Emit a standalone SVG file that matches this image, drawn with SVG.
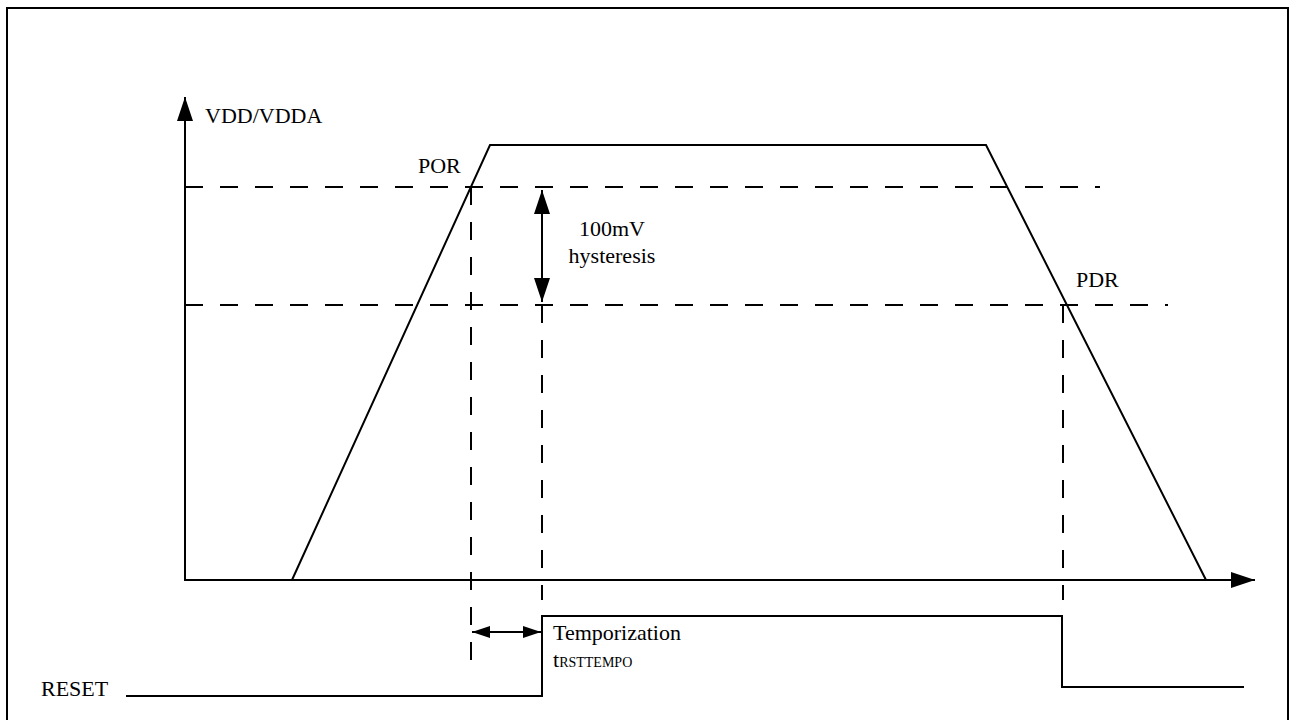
<svg xmlns="http://www.w3.org/2000/svg" width="1292" height="720" viewBox="0 0 1292 720">
<style>
.ln{fill:none;stroke:#000;stroke-width:2}
.dash{fill:none;stroke:#000;stroke-width:2;stroke-dasharray:18 17}
.t{font-family:"Liberation Serif","Times New Roman",serif;font-size:22px;fill:#000}
.s{font-size:14px}
</style>
<defs>
<marker id="ah" markerUnits="userSpaceOnUse" markerWidth="26" markerHeight="18" refX="24" refY="8" orient="auto-start-reverse">
<path d="M0,0 L24,8 L0,16 Z" fill="#000"/>
</marker>
<marker id="ahs" markerUnits="userSpaceOnUse" markerWidth="20" markerHeight="14" refX="18" refY="6" orient="auto-start-reverse">
<path d="M0,0 L18,6 L0,12 Z" fill="#000"/>
</marker>
</defs>
<rect x="0" y="0" width="1292" height="720" fill="#fff"/>
<rect id="frame" x="7" y="8" width="1281" height="730" class="ln"/>
<g id="axes">
<line x1="185" y1="581" x2="185" y2="97" class="ln" marker-end="url(#ah)"/>
<line x1="184" y1="580" x2="1255" y2="580" class="ln" marker-end="url(#ah)"/>
</g>
<g id="thresholds">
<line x1="185" y1="187" x2="1100" y2="187" class="dash"/>
<line x1="185" y1="305" x2="1168" y2="305" class="dash"/>
<line x1="471" y1="187" x2="471" y2="672" class="dash"/>
<line x1="542" y1="305" x2="542" y2="600" class="dash"/>
<line x1="1063" y1="305" x2="1063" y2="600" class="dash"/>
</g>
<g id="vdd-curve">
<polyline points="292,580 490,145 986,145 1206,580" class="ln"/>
</g>
<g id="reset-signal">
<polyline points="126,696 542,696 542,616 1062,616 1062,687 1244,687" class="ln"/>
</g>
<g id="connectors">
<line x1="542" y1="190" x2="542" y2="302" class="ln" marker-start="url(#ah)" marker-end="url(#ah)"/>
<line x1="472" y1="632" x2="541" y2="632" class="ln" marker-start="url(#ahs)" marker-end="url(#ahs)"/>
</g>
<g id="labels">
<text x="205" y="123" class="t">VDD/VDDA</text>
<text x="418" y="173" class="t">POR</text>
<text x="1076" y="287" class="t">PDR</text>
<text x="612" y="236" class="t" text-anchor="middle">100mV</text>
<text x="612" y="263" class="t" text-anchor="middle">hysteresis</text>
<text x="553" y="640" class="t">Temporization</text>
<text x="553" y="667" class="t">t<tspan class="s">RSTTEMPO</tspan></text>
<text x="41" y="696" class="t">RESET</text>
</g>
</svg>
